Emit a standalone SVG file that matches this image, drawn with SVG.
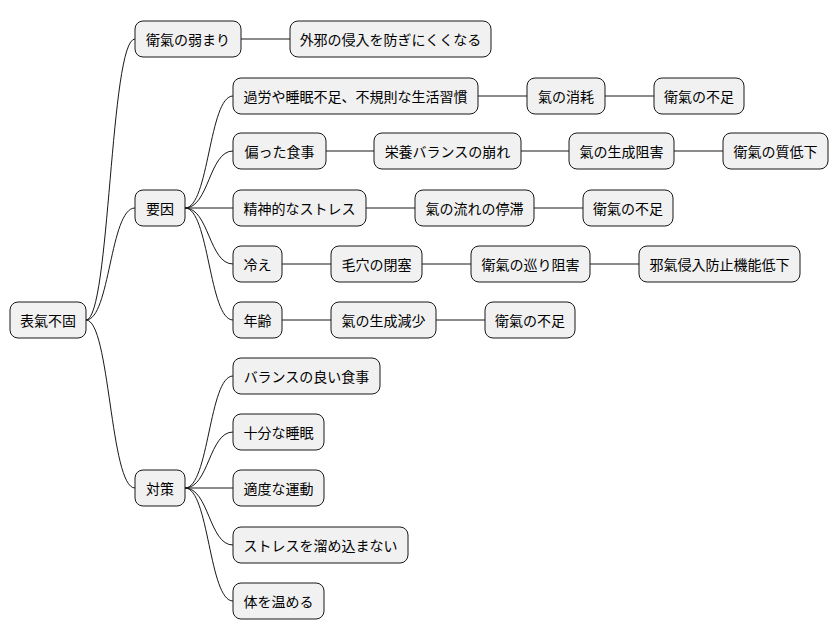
<svg xmlns="http://www.w3.org/2000/svg" width="838" height="640" viewBox="0 0 838 640">
<style>
.n rect{fill:#F1F1F1;stroke:#181818;stroke-width:1}
.n text{font-family:"Noto Sans CJK JP","Noto Sans CJK SC",sans-serif;font-size:14px;fill:#000;text-anchor:middle;dominant-baseline:central}
.c path{fill:none;stroke:#181818;stroke-width:1}
</style>
<rect width="838" height="640" fill="#fff"/>
<g class="c">
<path d="M86,320 C110,320 110,39 135,39"/>
<path d="M86,320 C110,320 110,208 135,208"/>
<path d="M86,320 C110,320 110,488 135,488"/>
<path d="M241,39 L290,39"/>
<path d="M185,208 C209,208 209,96 233,96"/>
<path d="M185,208 C209,208 209,151 233,151"/>
<path d="M185,208 L233,208"/>
<path d="M185,208 C209,208 209,264 233,264"/>
<path d="M185,208 C209,208 209,320 233,320"/>
<path d="M478,96 L527,96 M605,96 L654,96"/>
<path d="M326,151 L374,151 M521,151 L569,151 M674,151 L723,151"/>
<path d="M366,208 L415,208 M534,208 L583,208"/>
<path d="M282,264 L331,264 M422,264 L471,264 M590,264 L639,264"/>
<path d="M282,320 L331,320 M436,320 L485,320"/>
<path d="M185,488 C209,488 209,376 233,376"/>
<path d="M185,488 C209,488 209,432 233,432"/>
<path d="M185,488 L233,488"/>
<path d="M185,488 C209,488 209,545 233,545"/>
<path d="M185,488 C209,488 209,601 233,601"/>
</g>
<g id="root" class="n"><rect x="10" y="302" width="76" height="36" rx="8"/><text x="48" y="320">表氣不固</text></g>
<g id="n1" class="n"><rect x="135" y="21" width="106" height="36" rx="8"/><text x="188" y="39">衛氣の弱まり</text></g>
<g id="n1a" class="n"><rect x="290" y="21" width="201" height="36" rx="8"/><text x="390.5" y="39">外邪の侵入を防ぎにくくなる</text></g>
<g id="n2" class="n"><rect x="135" y="190" width="50" height="36" rx="8"/><text x="160" y="208">要因</text></g>
<g id="a1" class="n"><rect x="233" y="78" width="245" height="36" rx="8"/><text x="355.5" y="96">過労や睡眠不足、不規則な生活習慣</text></g>
<g id="a2" class="n"><rect x="527" y="78" width="78" height="36" rx="8"/><text x="566" y="96">氣の消耗</text></g>
<g id="a3" class="n"><rect x="654" y="78" width="90" height="36" rx="8"/><text x="699" y="96">衛氣の不足</text></g>
<g id="b1" class="n"><rect x="233" y="133" width="93" height="36" rx="8"/><text x="279.5" y="151">偏った食事</text></g>
<g id="b2" class="n"><rect x="374" y="133" width="147" height="36" rx="8"/><text x="447.5" y="151">栄養バランスの崩れ</text></g>
<g id="b3" class="n"><rect x="569" y="133" width="105" height="36" rx="8"/><text x="621.5" y="151">氣の生成阻害</text></g>
<g id="b4" class="n"><rect x="723" y="133" width="105" height="36" rx="8"/><text x="775.5" y="151">衛氣の質低下</text></g>
<g id="c1" class="n"><rect x="233" y="190" width="133" height="36" rx="8"/><text x="299.5" y="208">精神的なストレス</text></g>
<g id="c2" class="n"><rect x="415" y="190" width="119" height="36" rx="8"/><text x="474.5" y="208">氣の流れの停滞</text></g>
<g id="c3" class="n"><rect x="583" y="190" width="90" height="36" rx="8"/><text x="628" y="208">衛氣の不足</text></g>
<g id="d1" class="n"><rect x="233" y="246" width="49" height="36" rx="8"/><text x="257.5" y="264">冷え</text></g>
<g id="d2" class="n"><rect x="331" y="246" width="91" height="36" rx="8"/><text x="376.5" y="264">毛穴の閉塞</text></g>
<g id="d3" class="n"><rect x="471" y="246" width="119" height="36" rx="8"/><text x="530.5" y="264">衛氣の巡り阻害</text></g>
<g id="d4" class="n"><rect x="639" y="246" width="161" height="36" rx="8"/><text x="719.5" y="264">邪氣侵入防止機能低下</text></g>
<g id="e1" class="n"><rect x="233" y="302" width="49" height="36" rx="8"/><text x="257.5" y="320">年齢</text></g>
<g id="e2" class="n"><rect x="331" y="302" width="105" height="36" rx="8"/><text x="383.5" y="320">氣の生成減少</text></g>
<g id="e3" class="n"><rect x="485" y="302" width="90" height="36" rx="8"/><text x="530" y="320">衛氣の不足</text></g>
<g id="n3" class="n"><rect x="135" y="470" width="50" height="36" rx="8"/><text x="160" y="488">対策</text></g>
<g id="f1" class="n"><rect x="233" y="358" width="147" height="36" rx="8"/><text x="306.5" y="376">バランスの良い食事</text></g>
<g id="f2" class="n"><rect x="233" y="414" width="91" height="36" rx="8"/><text x="278.5" y="432">十分な睡眠</text></g>
<g id="f3" class="n"><rect x="233" y="470" width="91" height="36" rx="8"/><text x="278.5" y="488">適度な運動</text></g>
<g id="f4" class="n"><rect x="233" y="527" width="175" height="36" rx="8"/><text x="320.5" y="545">ストレスを溜め込まない</text></g>
<g id="f5" class="n"><rect x="233" y="583" width="91" height="36" rx="8"/><text x="278.5" y="601">体を温める</text></g>
</svg>
